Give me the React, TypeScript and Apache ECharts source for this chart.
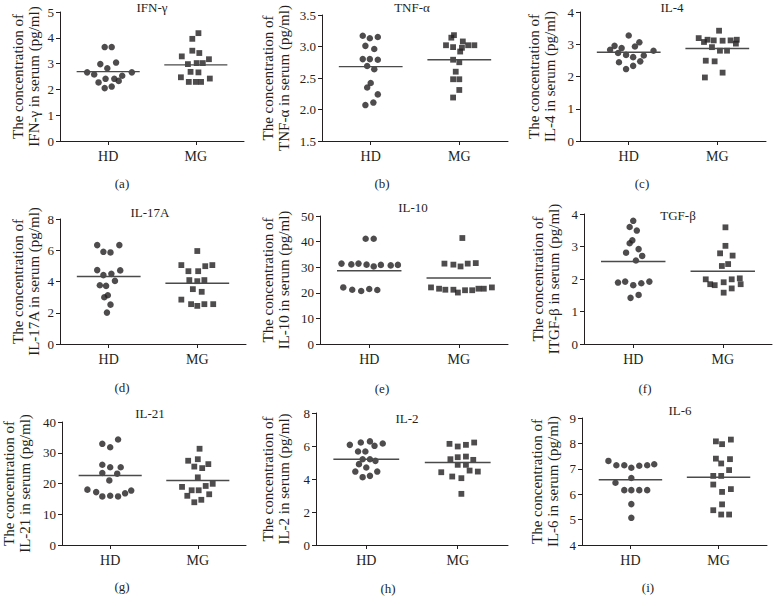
import React, { useEffect, useRef } from 'react';
import * as echarts from 'echarts';

// ---------- data ----------
const categories = ['HD', 'MG'];
const titles = ['IFN-γ', 'TNF-α', 'IL-4', 'IL-17A', 'IL-10', 'TGF-β', 'IL-21', 'IL-2', 'IL-6'];
const yNameLine2 = ['IFN-γ', 'TNF-α', 'IL-4', 'IL-17A', 'IL-10', 'ITGF-β', 'IL-21', 'IL-2', 'IL-6'];
const tags = ['(a)', '(b)', '(c)', '(d)', '(e)', '(f)', '(g)', '(h)', '(i)'];
const yMins = [0, 1.5, 0, 0, 0, 0, 0, 0, 4];
const yMaxs = [5, 3.5, 4, 8, 50, 4, 40, 8, 9];
const yIntervals = [1, 0.5, 1, 2, 10, 1, 10, 2, 1];
const yDecimals = [0, 1, 0, 0, 0, 0, 0, 0, 0];

const ifnHD = [3.64, 3.64, 2.98, 3.04, 2.82, 2.66, 2.58, 2.66, 2.41, 2.41, 2.53, 2.33, 2.27, 2.05, 2.11];
const ifnHDJitter = [-0.04, 0.04, -0.09, 0.09, -0.01, -0.24, -0.16, 0.27, -0.03, 0.07, 0.16, 0.12, -0.11, -0.04, 0.04];
const ifnMG = [4.18, 3.96, 3.5, 3.28, 3.41, 2.98, 3.02, 3.02, 3.17, 2.68, 2.66, 2.47, 2.42, 2.29, 2.29, 2.29];
const ifnMGJitter = [0.03, -0.04, -0.04, -0.16, 0.04, -0.09, 0.01, 0.08, 0.15, -0.06, 0.03, -0.17, 0.16, -0.08, 0.0, 0.06];

const tnfHD = [3.17, 3.13, 3.15, 3.01, 2.96, 2.8, 2.8, 2.79, 2.69, 2.64, 2.42, 2.35, 2.24, 2.11, 2.07];
const tnfHDJitter = [-0.09, -0.01, 0.08, -0.06, 0.04, -0.09, -0.01, 0.08, -0.04, 0.04, 0, -0.04, 0.08, 0.03, -0.06];
const tnfMG = [3.18, 3.14, 3.08, 3.02, 3.02, 3.02, 2.99, 2.98, 2.92, 2.79, 2.75, 2.6, 2.48, 2.48, 2.31, 2.19];
const tnfMGJitter = [-0.06, -0.09, 0.04, -0.15, 0.1, 0.17, -0.07, 0.03, 0.01, -0.07, 0, -0.04, -0.07, 0, 0, -0.07];

const il4HD = [3.27, 2.83, 2.95, 2.88, 2.93, 3.06, 2.73, 2.67, 2.6, 2.65, 2.8, 2.44, 2.47, 2.33, 2.23];
const il4HDJitter = [0, -0.21, -0.16, -0.08, 0.07, 0.12, -0.12, -0.03, 0.05, 0.17, 0.28, -0.11, 0.13, 0.05, -0.03];
const il4MG = [3.42, 3.19, 3.07, 3.14, 3.12, 3.11, 3.12, 3.14, 3.02, 2.91, 2.8, 2.8, 2.49, 2.47, 2.12, 1.97];
const il4MGJitter = [0.02, -0.21, -0.15, -0.11, -0.04, 0.06, 0.15, 0.22, 0.21, -0.06, 0.03, 0.11, -0.13, -0.03, 0.06, -0.14];

const il17HD = [6.33, 6.33, 5.9, 5.86, 4.73, 4.71, 4.41, 4.49, 4.04, 3.76, 3.72, 3.12, 2.99, 2.52, 2.01];
const il17HDJitter = [-0.13, 0.12, -0.06, 0.02, -0.13, 0.13, -0.06, 0.03, 0.07, -0.1, -0.03, -0.01, -0.05, 0.02, -0.02];
const il17MG = [5.95, 5.05, 5.05, 4.66, 4.66, 4.98, 4.09, 4.02, 4.09, 3.51, 3.34, 2.84, 2.55, 2.44, 2.55, 2.55];
const il17MGJitter = [0, -0.18, 0.17, -0.1, 0.01, 0.09, -0.09, 0, 0.08, -0.05, 0.05, -0.18, -0.07, 0, 0.08, 0.18];

const il10HD = [41.1, 41.1, 31.4, 31.1, 31.4, 31.0, 30.3, 30.9, 30.7, 30.9, 22.1, 21.2, 20.7, 21.5, 21.1];
const il10HDJitter = [-0.04, 0.05, -0.31, -0.2, -0.12, -0.03, 0.05, 0.13, 0.24, 0.32, -0.29, -0.19, -0.09, 0, 0.09];
const il10MG = [41.4, 31.4, 31.0, 30.3, 31.4, 31.6, 22.1, 21.6, 21.2, 21.2, 20.1, 21.0, 21.0, 21.6, 21.6, 22.1];
const il10MGJitter = [0.04, -0.16, -0.06, 0.02, 0.1, 0.19, -0.31, -0.22, -0.15, -0.06, -0.01, 0.07, 0.15, 0.22, 0.28, 0.37];

const tgfHD = [3.79, 3.6, 3.49, 3.19, 3.1, 2.92, 2.81, 2.71, 2.57, 1.89, 1.92, 1.81, 1.87, 1.92, 1.42, 1.51];
const tgfHDJitter = [0, -0.04, 0.04, -0.01, -0.04, 0.06, -0.08, 0.1, 0.03, -0.17, -0.09, 0, 0.09, 0.18, -0.03, 0.06];
const tgfMG = [3.59, 3.02, 2.79, 2.72, 2.46, 2.4, 1.99, 1.84, 1.81, 1.9, 1.99, 2.02, 1.84, 1.71, 1.58];
const tgfMGJitter = [0.03, 0.03, -0.03, 0.11, 0.06, -0.01, -0.19, -0.14, -0.09, 0.01, 0.1, 0.19, 0.2, 0.1, 0.01];

const il21HD = [32.9, 31.8, 34.3, 26.1, 25.3, 25.3, 23.4, 23.2, 21.0, 18.0, 17.2, 15.8, 16.0, 15.8, 16.8, 17.7];
const il21HDJitter = [-0.09, 0, 0.09, -0.09, 0, 0.12, -0.09, 0.08, -0.01, -0.26, -0.16, -0.09, 0, 0.09, 0.17, 0.24];
const il21MG = [31.3, 27.4, 27.9, 25.5, 25.0, 26.3, 22.0, 18.9, 19.9, 17.8, 17.8, 19.2, 16.0, 16.5, 14.7, 13.9];
const il21MGJitter = [0.02, -0.11, 0, -0.04, 0.05, 0.12, 0, -0.18, 0.17, -0.07, 0.01, 0.09, -0.12, 0.13, 0.04, -0.04];

const il2HD = [6.07, 6.21, 6.28, 6.01, 6.15, 5.67, 5.67, 5.2, 5.2, 5.1, 4.9, 4.7, 4.45, 4.45, 4.11, 4.19];
const il2HDJitter = [-0.18, -0.06, 0.04, 0.09, 0.18, -0.09, -0.01, -0.04, 0.04, 0.1, -0.08, 0, -0.12, 0.12, -0.04, 0.04];
const il2MG = [6.13, 5.97, 6.07, 6.21, 5.2, 5.32, 5.36, 5.16, 4.86, 4.86, 4.51, 4.45, 4.41, 4.15, 4.05, 3.1];
const il2MGJitter = [-0.09, 0, 0.09, 0.18, -0.08, 0, 0.09, 0.17, 0, 0.09, 0.13, 0.22, -0.18, -0.06, 0.04, 0.04];

const il6HD = [7.31, 7.14, 7.14, 7.04, 7.12, 7.14, 7.18, 6.45, 6.64, 6.16, 6.16, 6.16, 6.16, 5.61, 5.07];
const il6HDJitter = [-0.25, -0.16, -0.07, 0.01, 0.1, 0.19, 0.27, -0.17, 0.01, -0.07, 0.01, 0.1, 0.19, 0.01, 0.01];
const il6MG = [8.08, 7.97, 8.15, 7.4, 7.38, 7.21, 6.95, 6.72, 6.72, 6.38, 6.09, 6.2, 5.6, 5.37, 5.2, 5.2];
const il6MGJitter = [-0.03, 0.04, 0.14, -0.03, 0.13, 0.03, 0.12, -0.06, 0.03, -0.06, 0.04, 0.14, 0.04, -0.06, 0.03, 0.12];

const hdMeans = [2.69, 2.68, 2.75, 4.32, 28.6, 2.54, 22.6, 5.2, 6.57];
const mgMeans = [2.95, 2.79, 2.87, 3.89, 25.8, 2.24, 21.0, 5.0, 6.67];

const hdValues = [ifnHD, tnfHD, il4HD, il17HD, il10HD, tgfHD, il21HD, il2HD, il6HD];
const hdJitters = [ifnHDJitter, tnfHDJitter, il4HDJitter, il17HDJitter, il10HDJitter, tgfHDJitter, il21HDJitter, il2HDJitter, il6HDJitter];
const mgValues = [ifnMG, tnfMG, il4MG, il17MG, il10MG, tgfMG, il21MG, il2MG, il6MG];
const mgJitters = [ifnMGJitter, tnfMGJitter, il4MGJitter, il17MGJitter, il10MGJitter, tgfMGJitter, il21MGJitter, il2MGJitter, il6MGJitter];

// ---------- layout ----------
const panels = [
  { l: 60, t: 12, w: 184, h: 129, gap: 34, tx: 152, ty: 7, sx: 122, sy: 183 },
  { l: 322, t: 15, w: 186, h: 126, gap: 46, tx: 412, ty: 7, sx: 382, sy: 183 },
  { l: 580, t: 12, w: 186, h: 129, gap: 38, tx: 672, ty: 7, sx: 642, sy: 183 },
  { l: 60, t: 219, w: 186, h: 125, gap: 34, tx: 150, ty: 212, sx: 122, sy: 387 },
  { l: 320, t: 216, w: 188, h: 128, gap: 44, tx: 413, ty: 207, sx: 382, sy: 388 },
  { l: 584, t: 214, w: 188, h: 130, gap: 38, tx: 678, ty: 215, sx: 645, sy: 388 },
  { l: 60, t: 422, w: 186, h: 123, gap: 45, tx: 150, ty: 413, sx: 122, sy: 586 },
  { l: 316, t: 413, w: 192, h: 132, gap: 40, tx: 407, ty: 418, sx: 388, sy: 588 },
  { l: 582, t: 418, w: 185, h: 127, gap: 37, tx: 680, ty: 410, sx: 648, sy: 587 },
];

const FONT = 'Liberation Serif';
const INK = '#231f20';
const X_MIN = -0.55;
const X_MAX = 1.55;
const HALF_LINE = 0.36;

export default function App() {
  const ref = useRef<HTMLDivElement>(null);

  useEffect(() => {
    if (!ref.current) return;
    const chart = echarts.init(ref.current, null, { renderer: 'svg' });

    const grid: any[] = [];
    const xAxis: any[] = [];
    const yAxis: any[] = [];
    const series: any[] = [];
    const graphic: any[] = [];

    panels.forEach((p, i) => {
      grid.push({ left: p.l, top: p.t, width: p.w, height: p.h, containLabel: false });
      xAxis.push({
        type: 'value',
        gridIndex: i,
        min: X_MIN,
        max: X_MAX,
        splitLine: { show: false },
        axisLine: { show: true, onZero: false, lineStyle: { color: INK, width: 1 } },
        axisTick: { show: true, customValues: [0, 1], length: 4, lineStyle: { color: INK } },
        axisLabel: {
          show: true,
          customValues: [0, 1],
          formatter: (v: number) => categories[Math.round(v)] ?? '',
          fontFamily: FONT,
          fontSize: 14,
          color: INK,
          margin: 8,
        },
      });
      yAxis.push({
        type: 'value',
        gridIndex: i,
        min: yMins[i],
        max: yMaxs[i],
        interval: yIntervals[i],
        splitLine: { show: false },
        axisLine: { show: true, onZero: false, lineStyle: { color: INK, width: 1 } },
        axisTick: { show: true, length: 4, lineStyle: { color: INK } },
        axisLabel: {
          fontFamily: FONT,
          fontSize: 13,
          color: INK,
          margin: 6,
          formatter: (v: number) => v.toFixed(yDecimals[i]),
        },
        name: 'The concentration of\n' + yNameLine2[i] + ' in serum (pg/ml)',
        nameLocation: 'middle',
        nameRotate: 90,
        nameGap: p.gap,
        nameTextStyle: {
          fontFamily: FONT,
          fontSize: 15,
          lineHeight: 16,
          color: INK,
          align: 'center',
          verticalAlign: 'middle',
        },
      });
      series.push({
        type: 'scatter',
        xAxisIndex: i,
        yAxisIndex: i,
        symbol: 'circle',
        symbolSize: 6.5,
        itemStyle: { color: INK },
        data: hdValues[i].map((v, j) => [hdJitters[i][j], v]),
      });
      series.push({
        type: 'scatter',
        xAxisIndex: i,
        yAxisIndex: i,
        symbol: 'rect',
        symbolSize: 5.8,
        itemStyle: { color: INK },
        data: mgValues[i].map((v, j) => [1 + mgJitters[i][j], v]),
      });
      series.push({
        type: 'line',
        xAxisIndex: i,
        yAxisIndex: i,
        symbol: 'none',
        lineStyle: { color: '#4a4a4a', width: 1.4 },
        data: [[-HALF_LINE, hdMeans[i]], [HALF_LINE, hdMeans[i]]],
      });
      series.push({
        type: 'line',
        xAxisIndex: i,
        yAxisIndex: i,
        symbol: 'none',
        lineStyle: { color: '#4a4a4a', width: 1.4 },
        data: [[1 - HALF_LINE, mgMeans[i]], [1 + HALF_LINE, mgMeans[i]]],
      });
      graphic.push({
        type: 'text',
        x: p.tx,
        y: p.ty,
        style: { text: titles[i], fontFamily: FONT, fontSize: 13, fill: INK, textAlign: 'center', textVerticalAlign: 'middle' },
      });
      graphic.push({
        type: 'text',
        x: p.sx,
        y: p.sy,
        style: { text: tags[i], fontFamily: FONT, fontSize: 13, fill: INK, textAlign: 'center', textVerticalAlign: 'middle' },
      });
    });

    chart.setOption({
      animation: false,
      backgroundColor: '#ffffff',
      textStyle: { fontFamily: FONT },
      grid,
      xAxis,
      yAxis,
      series,
      graphic,
    });

    return () => chart.dispose();
  }, []);

  return (
    <div
      ref={ref}
      style={{ position: 'fixed', left: 0, top: 0, width: 780, height: 606, background: '#fff' }}
    />
  );
}
